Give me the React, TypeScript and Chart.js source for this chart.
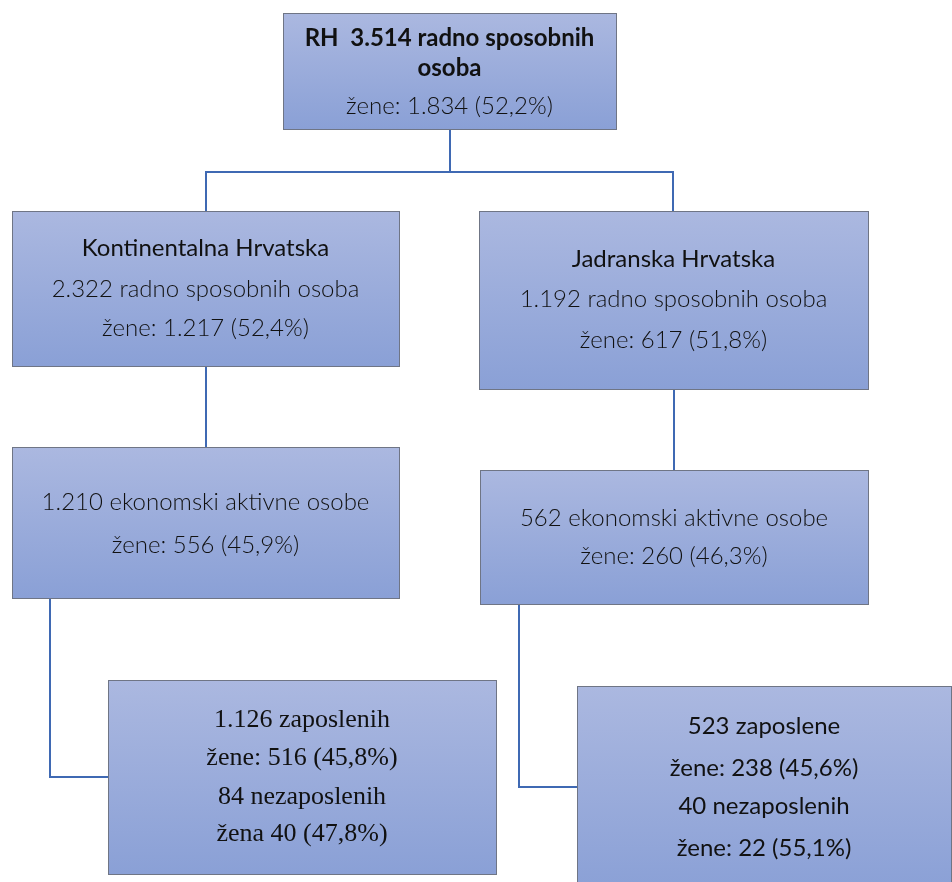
import React, { useEffect, useRef } from "react";
import { Chart, registerables } from "chart.js";

Chart.register(...registerables);

// ---- Text content of the tree nodes ----
const rhLines = ["RH  3.514 radno sposobnih", "osoba", "žene: 1.834 (52,2%)"];
const kontLines = ["Kontinentalna Hrvatska", "2.322 radno sposobnih osoba", "žene: 1.217 (52,4%)"];
const jadLines = ["Jadranska Hrvatska", "1.192 radno sposobnih osoba", "žene: 617 (51,8%)"];
const kontActiveLines = ["1.210 ekonomski aktivne osobe", "žene: 556 (45,9%)"];
const jadActiveLines = ["562 ekonomski aktivne osobe", "žene: 260 (46,3%)"];
const kontEmpLines = ["1.126 zaposlenih", "žene: 516 (45,8%)", "84 nezaposlenih", "žena 40 (47,8%)"];
const jadEmpLines = ["523 zaposlene", "žene: 238 (45,6%)", "40 nezaposlenih", "žene: 22 (55,1%)"];

const nodeTexts = [rhLines, kontLines, jadLines, kontActiveLines, jadActiveLines, kontEmpLines, jadEmpLines];

// ---- Layout (data-space coordinates on a 952 x 882 plane) ----
const boxLeft = [283, 12, 479, 12, 480, 108, 577];
const boxRight = [616, 399, 868, 399, 868, 496, 951];
const boxTop = [13, 211, 211, 447, 470, 680, 686];
const boxBottom = [129, 366, 389, 598, 604, 874, 892];
const textRows = [
  [38, 68, 106],
  [248, 289, 328],
  [259, 299, 340],
  [502, 545],
  [518, 556],
  [720, 758, 797, 834],
  [726, 768, 806, 848],
];
// font style per line: "b" bold sans, "r" regular sans, "l" light sans, "t" serif
const textStyles = [
  ["b", "b", "l"],
  ["r", "l", "l"],
  ["r", "l", "l"],
  ["l", "l"],
  ["l", "l"],
  ["t", "t", "t", "t"],
  ["r", "r", "r", "r"],
];

// Connector polylines
const connectors = [
  [{ x: 450, y: 129 }, { x: 450, y: 172 }],
  [{ x: 206, y: 211 }, { x: 206, y: 172 }, { x: 673, y: 172 }, { x: 673, y: 211 }],
  [{ x: 206, y: 366 }, { x: 206, y: 447 }],
  [{ x: 674, y: 389 }, { x: 674, y: 470 }],
  [{ x: 50, y: 598 }, { x: 50, y: 777 }, { x: 108, y: 777 }],
  [{ x: 519, y: 604 }, { x: 519, y: 787 }, { x: 577, y: 787 }],
];

const fontFor = (st: string) => {
  if (st === "b") return "bold 24px Lato, 'Open Sans', sans-serif";
  if (st === "t") return "26px 'Liberation Serif', 'Times New Roman', serif";
  if (st === "l") return "300 24px Lato, 'Open Sans', sans-serif";
  return "24px Lato, 'Open Sans', sans-serif";
};

const boxesPlugin = {
  id: "treeBoxes",
  afterDatasetsDraw(chart: any) {
    const { ctx, scales } = chart;
    const xs = scales.x;
    const ys = scales.y;
    ctx.save();
    for (let i = 0; i < nodeTexts.length; i++) {
      const x0 = xs.getPixelForValue(boxLeft[i]);
      const x1 = xs.getPixelForValue(boxRight[i]);
      const y0 = ys.getPixelForValue(boxTop[i]);
      const y1 = ys.getPixelForValue(boxBottom[i]);
      const g = ctx.createLinearGradient(0, y0, 0, y1);
      g.addColorStop(0, "#abb8e0");
      g.addColorStop(1, "#8aa0d6");
      ctx.fillStyle = g;
      ctx.fillRect(x0, y0, x1 - x0, y1 - y0);
      ctx.strokeStyle = "#6f7585";
      ctx.lineWidth = 1;
      ctx.strokeRect(Math.round(x0) + 0.5, Math.round(y0) + 0.5, x1 - x0, y1 - y0);
      const cx = (x0 + x1) / 2;
      ctx.fillStyle = "#111111";
      ctx.textAlign = "center";
      ctx.textBaseline = "middle";
      nodeTexts[i].forEach((line, j) => {
        ctx.font = fontFor(textStyles[i][j]);
        ctx.fillText(line, cx, ys.getPixelForValue(textRows[i][j]));
      });
    }
    ctx.restore();
  },
};

export default function App() {
  const ref = useRef<HTMLCanvasElement | null>(null);
  useEffect(() => {
    document.body.style.margin = "0";
    const chart = new Chart(ref.current as HTMLCanvasElement, {
      type: "scatter",
      data: {
        datasets: connectors.map((pts) => ({
          data: pts,
          showLine: true,
          borderColor: "#3f69b3",
          borderWidth: 2,
          pointRadius: 0,
          fill: false,
          tension: 0,
        })),
      },
      options: {
        responsive: false,
        animation: false,
        events: [],
        layout: { padding: 0 },
        plugins: { legend: { display: false }, tooltip: { enabled: false } },
        scales: {
          x: { type: "linear", min: 0, max: 952, display: false },
          y: { type: "linear", min: 0, max: 882, reverse: true, display: false },
        },
      },
      plugins: [boxesPlugin],
    });
    return () => chart.destroy();
  }, []);
  return (
    <div style={{ width: 952, height: 882, background: "#fff" }}>
      <canvas ref={ref} width={952} height={882} style={{ display: "block", width: 952, height: 882 }} />
    </div>
  );
}
